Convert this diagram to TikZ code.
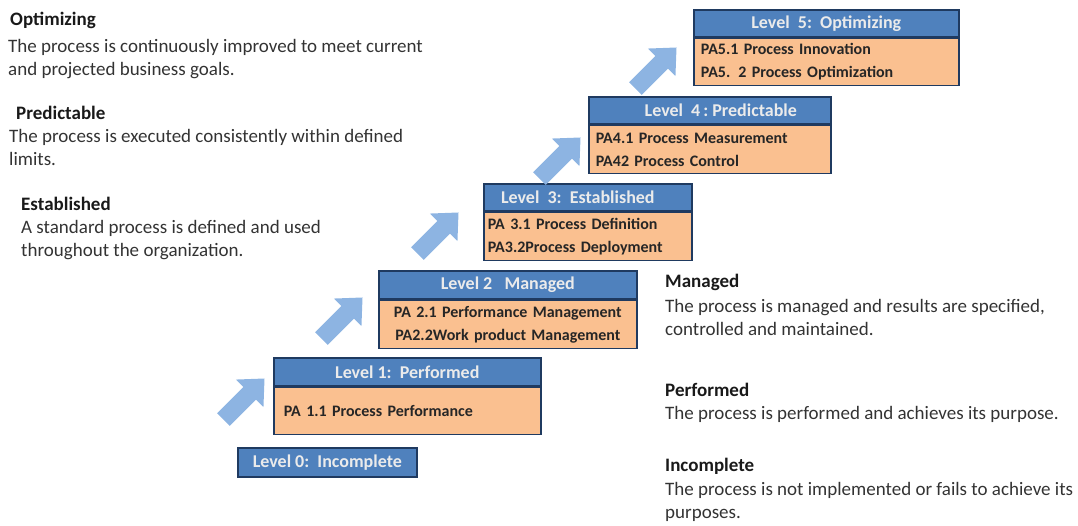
\documentclass[tikz,border=0pt]{standalone}
\usepackage{fontspec}
\setmainfont{Carlito}
\definecolor{hdrblue}{HTML}{4F81BD}
\definecolor{hdrline}{HTML}{1F3A60}
\definecolor{bodyor}{HTML}{FAC090}
\definecolor{arrblue}{HTML}{8DB4E2}
\definecolor{desc}{HTML}{333333}
\tikzset{
  hdr/.style={draw=hdrline, line width=1.6pt, fill=hdrblue, text=white!92!black,
    font=\fontsize{18}{20}\selectfont\bfseries, inner sep=0pt, anchor=north west},
  bodybox/.style={draw=hdrline, line width=1.6pt, fill=bodyor, text=black!85,
    font=\fontsize{16}{23}\selectfont\bfseries, inner xsep=10pt, inner ysep=0pt,
    anchor=north west, align=left},
  ttl/.style={font=\fontsize{19}{23}\selectfont\bfseries, text=black!90, anchor=west, inner sep=0pt},
  dsc/.style={font=\fontsize{19}{23}\selectfont, text=desc, anchor=north west, inner sep=0pt, align=left},
  blockarrowfill/.style={fill=arrblue, draw=none},
}
\newcommand{\blockarrowat}[1]{%
  \begin{scope}[shift={#1}, rotate=45]
    \fill[blockarrowfill] (-29,-9) -- (8,-9) -- (8,-19.5) -- (29,0) -- (8,19.5) -- (8,9) -- (-29,9) -- cycle;
  \end{scope}}
\begin{document}
\begin{tikzpicture}[x=1pt,y=-1pt]
\useasboundingbox (0,0) rectangle (1078,525);

% Level 0
\node[hdr, minimum width=179pt, minimum height=29pt] (h0) at (237,447) {Level 0:\ \ Incomplete};

% Level 1
\node[hdr, minimum width=267pt, minimum height=28pt] (h1) at (273,357) {Level 1:\ \ Performed};
\node[bodybox, minimum width=267pt, minimum height=47pt, text width=247pt] (b1) at (h1.south west) {PA 1.1 Process Performance};

% Level 2
\node[hdr, minimum width=258pt, minimum height=28pt] (h2) at (378,270) {Level 2\ \ \ Managed};
\node[bodybox, minimum width=258pt, minimum height=48pt, text width=244pt, inner xsep=7pt, align=center] (b2) at (h2.south west) {PA 2.1 Performance Management\\PA2.2Work product Management};

% Level 3
\node[hdr, minimum width=208pt, minimum height=27pt] (h3) at (483,183) {\hspace{-20pt}Level\ \ 3:\ \ Established};
\node[bodybox, minimum width=208pt, minimum height=48pt, text width=200pt, inner xsep=4pt] (b3) at (h3.south west) {PA 3.1 Process Definition\\PA3.2Process Deployment};

% Level 4
\node[hdr, minimum width=242pt, minimum height=27pt] (h4) at (588,96) {\hspace{22pt}Level\ \ 4\,:\ Predictable};
\node[bodybox, minimum width=242pt, minimum height=48pt, text width=228pt, inner xsep=7pt] (b4) at (h4.south west) {PA4.1 Process Measurement\\PA42 Process Control};

% Level 5
\node[hdr, minimum width=265pt, minimum height=27pt] (h5) at (693,9) {Level\ \ 5:\ \ Optimizing};
\node[bodybox, minimum width=265pt, minimum height=47pt, text width=251pt, inner xsep=7pt] (b5) at (h5.south west) {PA5.1 Process Innovation\\PA5. 2 Process Optimization};

% Block arrows
\blockarrowat{(244,399)}
\blockarrowat{(342,318)}
\blockarrowat{(438,233)}
\blockarrowat{(560,158)}
\blockarrowat{(656,68)}

% Left descriptions
\node[ttl] (t5) at (10,20) {Optimizing};
\node[dsc] (d5) at (8,39) {The process is continuously improved to meet current\\and projected business goals.};
\node[ttl] (t4) at (16,113) {Predictable};
\node[dsc] (d4) at (9,129) {The process is executed consistently within defined\\limits.};
\node[ttl] (t3) at (21,204) {Established};
\node[dsc] (d3) at (21,220) {A standard process is defined and used\\throughout the organization.};

% Right descriptions
\node[ttl] (t2) at (665,282) {Managed};
\node[dsc] (d2) at (665,299) {The process is managed and results are specified,\\controlled and maintained.};
\node[ttl] (t1) at (665,390) {Performed};
\node[dsc] (d1) at (665,406) {The process is performed and achieves its purpose.};
\node[ttl] (t0) at (665,466) {Incomplete};
\node[dsc] (d0) at (665,482) {The process is not implemented or fails to achieve its\\purposes.};
\end{tikzpicture}
\end{document}
